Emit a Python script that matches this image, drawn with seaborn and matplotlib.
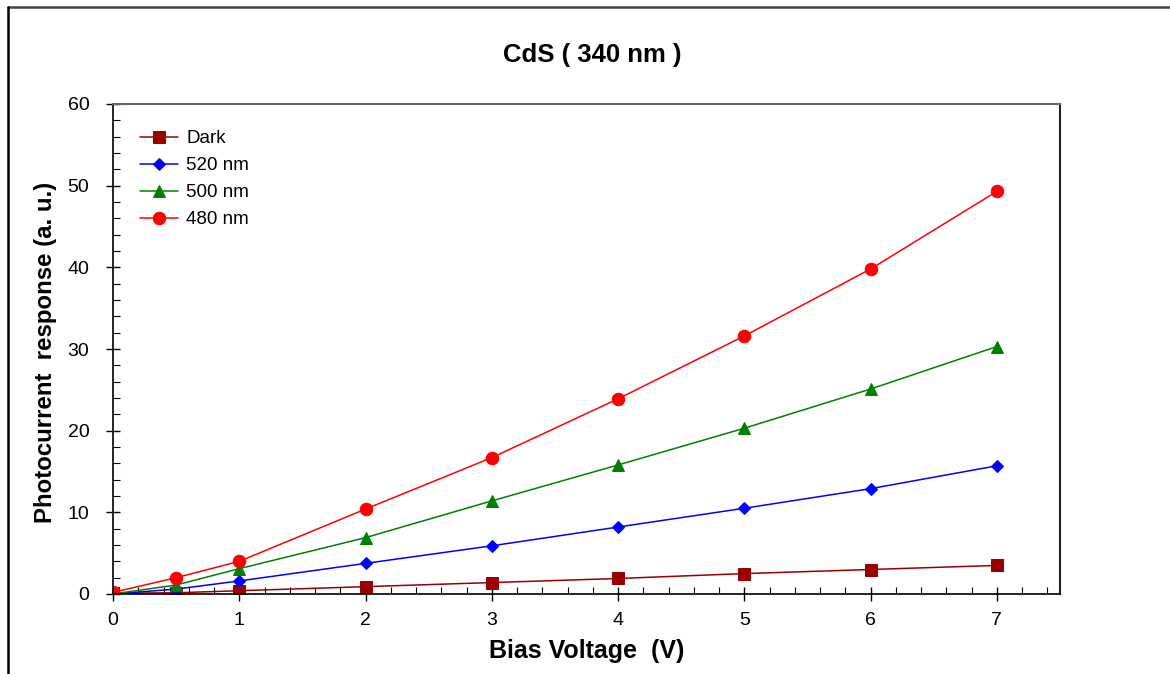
import matplotlib
matplotlib.use("Agg")
import matplotlib.pyplot as plt
from matplotlib.lines import Line2D
from matplotlib.ticker import MultipleLocator
import seaborn as sns
import pandas as pd

# Bias voltage (V) and photocurrent response (a. u.) for each illumination
voltage = [0, 0.5, 1, 2, 3, 4, 5, 6, 7]
dark = [0.1, 0.15, 0.4, 0.9, 1.4, 1.9, 2.5, 3.0, 3.5]
nm520 = [0.0, 0.6, 1.6, 3.75, 5.9, 8.2, 10.5, 12.9, 15.7]
nm500 = [0.0, 1.1, 3.1, 6.9, 11.4, 15.8, 20.3, 25.1, 30.3]
nm480 = [0.2, 2.0, 4.0, 10.4, 16.7, 23.9, 31.6, 39.8, 49.3]

series_names = ["Dark", "520 nm", "500 nm", "480 nm"]
series_values = [dark, nm520, nm500, nm480]
colors = ["#990000", "#0000ff", "#008000", "#ff0000"]
markers = ["s", "D", "^", "o"]
marker_sizes = [8, 6.5, 8.5, 9]

rows = []
for name, vals in zip(series_names, series_values):
    for v, y in zip(voltage, vals):
        rows.append({"Bias": v, "Response": y, "Series": name})
df = pd.DataFrame(rows)

sns.set_style("white")
plt.rcParams["font.family"] = ["Liberation Sans", "DejaVu Sans"]
plt.rcParams["text.color"] = "black"
plt.rcParams["axes.labelcolor"] = "black"
plt.rcParams["xtick.color"] = "black"
plt.rcParams["ytick.color"] = "black"

W, H = 1170, 674
fig = plt.figure(figsize=(W / 100, H / 100), dpi=100)
ax = fig.add_axes([113 / W, 1 - 594 / H, (1060 - 113) / W, (594 - 104) / H])

for name, c, m, ms in zip(series_names, colors, markers, marker_sizes):
    sub = df[df["Series"] == name]
    sns.lineplot(data=sub, x="Bias", y="Response", ax=ax, color=c, marker=m,
                 markersize=ms, markeredgecolor=c, linewidth=1.1, label=name,
                 estimator=None, sort=False)

ax.set_xlim(0, 7.5)
ax.set_ylim(0, 60)
ax.xaxis.set_major_locator(MultipleLocator(1))
ax.xaxis.set_minor_locator(MultipleLocator(0.2))
ax.yaxis.set_major_locator(MultipleLocator(10))
ax.yaxis.set_minor_locator(MultipleLocator(2))
ax.set_xticks(range(0, 8))
ax.tick_params(which="major", direction="inout", length=10, width=1, colors="black",
               labelsize=14)
ax.tick_params(axis="x", which="major", pad=8)
ax.tick_params(axis="y", which="major", pad=12)
ax.tick_params(which="minor", direction="in", length=5, width=0.8, colors="black")
ax.tick_params(axis="both", which="both", bottom=True, left=True, top=False, right=False)

for s in ["left", "bottom"]:
    ax.spines[s].set_color("black")
    ax.spines[s].set_linewidth(1.2)
ax.spines["top"].set_color("#666666")
ax.spines["top"].set_linewidth(1.5)
ax.spines["right"].set_color("#222222")
ax.spines["right"].set_linewidth(1.5)

ax.set_xlabel("Bias Voltage  (V)", fontsize=18, fontweight="bold")
ax.xaxis.label.set_verticalalignment("center")
ax.xaxis.set_label_coords((587 - 113) / 947, (594 - 651) / 490)
ax.set_ylabel("Photocurrent  response (a. u.)", fontsize=17.3, fontweight="bold")
ax.yaxis.label.set_verticalalignment("center")
ax.yaxis.set_label_coords((46 - 113) / 947, (594 - 352) / 490)

fig.text(592 / W, 1 - 55 / H, "CdS ( 340 nm )", fontsize=18.5, fontweight="bold",
         ha="center", va="center")

leg = ax.legend(loc="upper left", bbox_to_anchor=(0.021, 0.962), frameon=False,
                fontsize=13.5, handlelength=2.0, labelspacing=0.53, handletextpad=0.45,
                borderaxespad=0)

# Outer frame of the figure
fig.add_artist(Line2D([8 / W, 1], [1 - 7 / H, 1 - 7 / H], color="#444444", lw=1.8,
                      transform=fig.transFigure))
fig.add_artist(Line2D([8 / W, 8 / W], [0, 1 - 7 / H], color="black", lw=1.8,
                      transform=fig.transFigure))

fig.savefig("out.png", dpi=100)
